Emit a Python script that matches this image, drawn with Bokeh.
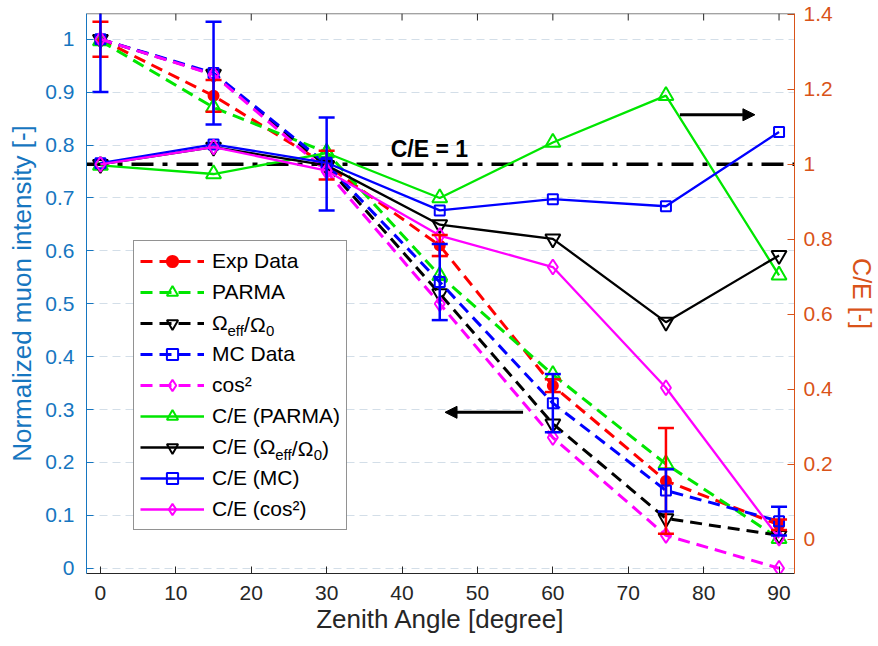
from bokeh.plotting import figure
from bokeh.models import (Range1d, LinearAxis, FixedTicker, Span, Label, Arrow, NormalHead,
                          Whisker, TeeHead, ColumnDataSource, Legend, LegendItem, BoxAnnotation)
from bokeh.embed import file_html
from bokeh.resources import INLINE

# ---------------- data ----------------
angle = [0, 15, 30, 45, 60, 75, 90]

exp_data = [1.0, 0.893, 0.762, 0.610, 0.345, 0.165, 0.082]
exp_err = [0.033, 0.030, 0.027, 0.020, 0.012, 0.100, 0.010]
parma = [0.997, 0.871, 0.786, 0.553, 0.366, 0.197, 0.056]
omega_ratio = [1.0, 0.934, 0.760, 0.519, 0.273, 0.094, 0.062]
mc_data = [1.0, 0.936, 0.764, 0.541, 0.312, 0.147, 0.089]
mc_err = [0.100, 0.097, 0.088, 0.072, 0.055, 0.040, 0.027]
cos2 = [1.0, 0.933, 0.750, 0.500, 0.247, 0.062, 0.0]

ce_parma = [0.997, 0.974, 1.030, 0.910, 1.058, 1.183, 0.704]
ce_omega = [1.0, 1.046, 0.997, 0.839, 0.801, 0.579, 0.757]
ce_mc = [1.003, 1.053, 1.004, 0.877, 0.907, 0.888, 1.086]
ce_cos2 = [1.0, 1.046, 0.983, 0.810, 0.726, 0.404, 0.003]

x_ticks = [0, 10, 20, 30, 40, 50, 60, 70, 80, 90]
left_ticks = [0, 0.1, 0.2, 0.3, 0.4, 0.5, 0.6, 0.7, 0.8, 0.9, 1.0]
right_ticks = [0, 0.2, 0.4, 0.6, 0.8, 1.0, 1.2, 1.4]

# ---------------- style ----------------
FONT = "Liberation Sans"
LEFT_C = "#1676c0"
RIGHT_C = "#D95319"
AX_C = "#262626"
RED, GREEN, BLACK, BLUE, MAG = "#ff0000", "#00e600", "#000000", "#0000ff", "#ff00ff"
DASH = "12 7"

W, H = 878, 646
BL, BR, BT, BB = 86, 83, 13, 73
X0, X1 = -1.85, 92.05
Y0, Y1 = -0.010, 1.0486
R0, R1 = -0.0912, 1.402

p = figure(width=W, height=H,
           x_range=Range1d(X0, X1), y_range=Range1d(Y0, Y1),
           output_backend="svg", toolbar_location=None,
           min_border_left=BL, min_border_right=BR, min_border_top=BT, min_border_bottom=BB)
p.extra_y_ranges = {"ce": Range1d(R0, R1)}
p.outline_line_color = None
p.background_fill_color = "white"
p.border_fill_color = "white"

FW, FH = W - BL - BR, H - BT - BB
XS = FW / (X1 - X0)   # px per x unit
YS = FH / (Y1 - Y0)   # px per left-y unit
RS = FH / (R1 - R0)   # px per right-y unit


def fx(px):  # frame px (from left) -> data x
    return X0 + px / XS


def fy(py):  # frame px (from bottom) -> left data y
    return Y0 + py / YS


# x axis
xa = p.xaxis[0]
xa.ticker = FixedTicker(ticks=x_ticks)
xa.axis_label = "Zenith Angle [degree]"

# left axis
ya = p.yaxis[0]
ya.ticker = FixedTicker(ticks=left_ticks)
ya.axis_label = "Normalized muon intensity [-]"
ya.major_label_overrides = {0: "0", 1: "1"}

# right axis
ra = LinearAxis(y_range_name="ce", ticker=FixedTicker(ticks=right_ticks), axis_label="C/E [-]")
ra.major_label_overrides = {0: "0", 1: "1"}
p.add_layout(ra, "right")

for ax, col in ((xa, AX_C), (ya, LEFT_C), (ra, RIGHT_C)):
    ax.axis_line_color = col
    ax.major_tick_line_color = col
    ax.minor_tick_line_color = None
    ax.major_tick_in = 7
    ax.major_tick_out = 0
    ax.major_label_text_color = col
    ax.major_label_text_font = FONT
    ax.major_label_text_font_size = "21px"
    ax.axis_label_text_color = col
    ax.axis_label_text_font = FONT
    ax.axis_label_text_font_size = "26px"
    ax.axis_label_text_font_style = "normal"
ra.axis_label_text_font_size = "25px"

xa.major_label_standoff = 12
xa.axis_label_standoff = 1
ya.major_label_standoff = 12
ya.axis_label_standoff = 5
ra.major_label_standoff = 9
ra.axis_label_standoff = 12

p.xgrid.visible = False
p.ygrid.ticker = FixedTicker(ticks=left_ticks)
p.ygrid.grid_line_color = "#d3dee8"
p.ygrid.grid_line_dash = "8 5"
p.ygrid.grid_line_width = 1

# top border with inward ticks (box style)
p.add_layout(Span(location=Y1 - 0.0003, dimension="width", line_color=AX_C, line_width=1))
p.segment(x0=x_ticks, y0=[Y1] * len(x_ticks), x1=x_ticks, y1=[Y1 - 7 / YS] * len(x_ticks),
          line_color=AX_C, line_width=1)

# C/E = 1 reference line
p.add_layout(Span(location=1.0, dimension="width", y_range_name="ce", line_color="black",
                  line_width=3.5, line_dash="22 9 5 9", level="underlay"))


def series(y, color, marker, size, dashed, rng, fill=None):
    lw = 3 if dashed else 2.3
    ln = p.line(angle, y, line_color=color, line_width=lw,
                line_dash=DASH if dashed else "solid", y_range_name=rng)
    pt = p.scatter(angle, y, marker=marker, size=size, line_color=color,
                   fill_color=fill, line_width=2, y_range_name=rng)
    return [ln, pt]


r_exp = series(exp_data, RED, "circle", 10, True, "default", fill=RED)
r_parma = series(parma, GREEN, "triangle", 15, True, "default")
r_omega = series(omega_ratio, BLACK, "inverted_triangle", 15, True, "default")
r_mc = series(mc_data, BLUE, "square", 10, True, "default")
r_cos = series(cos2, MAG, "diamond", 15, True, "default")

r_ce_parma = series(ce_parma, GREEN, "triangle", 15, False, "ce")
r_ce_omega = series(ce_omega, BLACK, "inverted_triangle", 15, False, "ce")
r_ce_mc = series(ce_mc, BLUE, "square", 10, False, "ce")
r_ce_cos = series(ce_cos2, MAG, "diamond", 15, False, "ce")

# error bars
exp_src = ColumnDataSource(dict(x=angle,
                                upper=[v + e for v, e in zip(exp_data, exp_err)],
                                lower=[v - e for v, e in zip(exp_data, exp_err)]))
mc_src = ColumnDataSource(dict(x=angle,
                               upper=[v + e for v, e in zip(mc_data, mc_err)],
                               lower=[v - e for v, e in zip(mc_data, mc_err)]))
for src, col in ((exp_src, RED), (mc_src, BLUE)):
    p.add_layout(Whisker(source=src, base="x", upper="upper", lower="lower",
                         line_color=col, line_width=2.5, level="glyph",
                         upper_head=TeeHead(size=16, line_color=col, line_width=2.5),
                         lower_head=TeeHead(size=16, line_color=col, line_width=2.5)))

# arrows
p.add_layout(Arrow(end=NormalHead(size=12, fill_color="black", line_color="black"),
                   x_start=56.05, y_start=0.2947, x_end=45.7, y_end=0.2947,
                   line_width=3, line_color="black"))
p.add_layout(Arrow(end=NormalHead(size=12, fill_color="black", line_color="black"),
                   x_start=76.85, y_start=1.132, x_end=86.8, y_end=1.132,
                   line_width=3, line_color="black", y_range_name="ce"))

p.add_layout(Label(x=38.5, y=1.0 + 15 / RS, y_range_name="ce", text="C/E = 1", text_font=FONT,
                   text_font_size="23px", text_font_style="bold", text_color="black",
                   text_baseline="middle", text_align="left"))

# legend
LEG_X, LEG_Y = 47, 43
PAD, GW, GH, SP, STAND = 6, 64, 28, 3, 8
EM = 21
n_items = 9
leg_h = 2 * PAD + n_items * GH + (n_items - 1) * SP
leg_w = 2 * PAD + GW + STAND + 6.167 * EM
leg_top = LEG_Y + leg_h
text_x = LEG_X + PAD + GW + STAND

# white backing for the legend (legend itself is transparent so the text pieces show)
p.add_layout(BoxAnnotation(left=fx(LEG_X), right=fx(LEG_X + leg_w), bottom=fy(LEG_Y),
                           top=fy(leg_top), fill_color="white", fill_alpha=1.0,
                           line_color=None, level="underlay"))

legend = Legend(items=[
    LegendItem(label="Exp Data", renderers=r_exp),
    LegendItem(label="PARMA", renderers=r_parma),
    LegendItem(label="Ω", renderers=r_omega),
    LegendItem(label="MC Data", renderers=r_mc),
    LegendItem(label="cos²", renderers=r_cos),
    LegendItem(label="C/E (PARMA)", renderers=r_ce_parma),
    LegendItem(label="C/E (Ω", renderers=r_ce_omega),
    LegendItem(label="C/E (MC)", renderers=r_ce_mc),
    LegendItem(label="C/E (cos²)", renderers=r_ce_cos),
], location=(LEG_X, LEG_Y), label_text_font=FONT, label_text_font_size="21px",
    label_text_color="black", glyph_width=GW, glyph_height=GH, label_height=GH,
    spacing=SP, padding=PAD, label_standoff=STAND, margin=0,
    border_line_color=AX_C, border_line_width=1, background_fill_alpha=0.0)
p.add_layout(legend)


def row_y(i):
    return leg_top - PAD - i * (GH + SP) - GH / 2


def piece(x, y, txt, size, dy=0):
    p.add_layout(Label(x=fx(x), y=fy(y + dy), text=txt,
                       text_font=FONT, text_font_size=size, text_color="black",
                       text_baseline="middle", text_align="left", level="overlay"))


W_OMEGA = 0.768 * EM
W_EFF = 1.112 * 15
W_SLASH_OMEGA = (0.278 + 0.768) * EM
W_ZERO = 0.556 * 15

for idx, prefix_w in ((2, W_OMEGA), (6, (0.722 + 0.278 + 0.667 + 0.278 + 0.333 + 0.768) * EM)):
    yy = row_y(idx)
    x0 = text_x + prefix_w
    piece(x0, yy, "eff", "15px", dy=-6)
    x1 = x0 + W_EFF
    piece(x1, yy, "/Ω", "21px")
    x2 = x1 + W_SLASH_OMEGA
    piece(x2, yy, "0", "15px", dy=-6)
    if idx == 6:
        piece(x2 + W_ZERO, yy, ")", "21px")

open("out.html", "w").write(file_html(p, INLINE))
